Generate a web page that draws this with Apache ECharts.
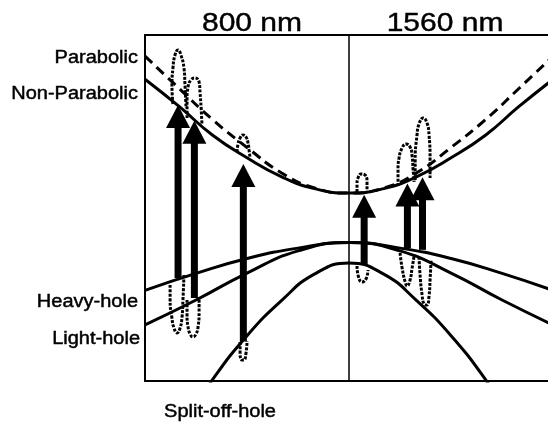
<!DOCTYPE html>
<html>
<head>
<meta charset="utf-8">
<script src="https://cdn.jsdelivr.net/npm/echarts@6/dist/echarts.min.js"></script>
<style>
  html, body { margin: 0; padding: 0; background: #fff; }
  #chart { width: 548px; height: 430px; }
</style>
</head>
<body>
<div id="chart"></div>
<script>
// Band structure sketch: wave vector k (normalised) vs energy (eV, valence-band top = 0)

// k samples for conduction band and split-off band
const kBand = [-1, -0.83, -0.67, -0.5, -0.33, -0.17, 0, 0.17, 0.33, 0.5, 0.67, 0.83, 1];
const cbNonParabolic = [4.72, 3.92, 3.11, 2.45, 1.90, 1.56, 1.43, 1.56, 1.90, 2.45, 3.11, 3.92, 4.72];
const cbParabolic = [5.39, 4.44, 3.56, 2.75, 2.01, 1.58, 1.43, 1.58, 2.01, 2.75, 3.56, 4.44, 5.39];
const splitOff = [-7.0, -5.4, -3.97, -2.69, -1.67, -0.91, -0.59, -0.91, -1.67, -2.69, -3.97, -5.4, -7.0];

// k samples for heavy- and light-hole bands
const kHole = [-1, -0.75, -0.5, -0.25, 0, 0.25, 0.5, 0.75, 1];
const heavyHole = [-1.38, -0.89, -0.46, -0.16, 0, -0.16, -0.46, -0.89, -1.38];
const lightHole = [-2.38, -1.66, -0.88, -0.24, 0, -0.24, -0.88, -1.66, -2.38];

// optical transitions: [k, start energy, end energy]
const transitions = [
  [-0.838, -1.02, 3.98],
  [-0.758, -1.60, 3.52],
  [-0.518, -2.86, 2.27],
  [0.074, -0.65, 1.38],
  [0.286, -0.16, 1.71],
  [0.360, -0.21, 1.89]
];

// electron wave packets in the conduction band, [k, E] outlines
const electronPackets = [
  [[-0.863,4.006],[-0.868,4.555],[-0.863,5.047],[-0.853,5.422],[-0.838,5.567],[-0.824,5.422],[-0.809,5.047],[-0.804,4.555],[-0.799,3.891]],
  [[-0.794,3.602],[-0.794,4.122],[-0.789,4.498],[-0.775,4.700],[-0.755,4.758],[-0.735,4.642],[-0.730,4.324],[-0.725,3.891],[-0.721,3.428]],
  [[-0.549,2.619],[-0.544,2.850],[-0.534,3.023],[-0.520,3.110],[-0.505,3.052],[-0.495,2.879],[-0.490,2.677],[-0.485,2.445]],
  [[0.039,1.463],[0.039,1.694],[0.044,1.867],[0.059,1.983],[0.078,1.954],[0.088,1.781],[0.088,1.492]],
  [[0.240,1.636],[0.240,2.099],[0.245,2.445],[0.260,2.734],[0.279,2.850],[0.299,2.763],[0.309,2.503],[0.314,2.099],[0.319,1.752]],
  [[0.324,1.810],[0.324,2.388],[0.333,3.110],[0.343,3.428],[0.363,3.602],[0.382,3.457],[0.392,3.110],[0.397,2.388],[0.397,1.867]]
];

// hole wave packets in the valence bands
const holePackets = [
  [[-0.877,-1.225],[-0.877,-1.659],[-0.868,-2.179],[-0.858,-2.468],[-0.843,-2.612],[-0.828,-2.468],[-0.819,-2.179],[-0.814,-1.659],[-0.809,-0.936]],
  [[-0.794,-1.659],[-0.794,-2.092],[-0.789,-2.439],[-0.779,-2.641],[-0.765,-2.728],[-0.750,-2.641],[-0.740,-2.439],[-0.735,-2.006],[-0.735,-1.572]],
  [[-0.534,-2.872],[-0.534,-3.190],[-0.525,-3.393],[-0.515,-3.393],[-0.505,-3.190],[-0.500,-2.844]],
  [[0.039,-0.676],[0.044,-0.936],[0.064,-1.139],[0.083,-1.052],[0.093,-0.791]],
  [[0.250,-0.300],[0.260,-0.734],[0.275,-1.139],[0.284,-1.254],[0.299,-1.081],[0.309,-0.734],[0.319,-0.387]],
  [[0.343,-0.416],[0.348,-0.936],[0.358,-1.514],[0.368,-1.774],[0.382,-1.803],[0.392,-1.543],[0.397,-1.081],[0.402,-0.503]]
];

const wavelengthTitles = ['800 nm', '1560 nm'];
const bandLabels = ['Parabolic', 'Non-Parabolic', 'Heavy-hole', 'Light-hole', 'Split-off-hole'];

// visible k window: the frame is cut by the right edge of the page
const K_MIN = -1, K_MAX = 0.975;

const zip = (ks, es) => ks.map((k, i) => [k, es[i]]);
const FONT = '"Liberation Sans", Arial, Helvetica, sans-serif';

const bandSeries = (data, dash) => ({
  type: 'line',
  data: data,
  smooth: 0.5,
  symbol: 'none',
  silent: true,
  clip: true,
  lineStyle: { color: '#000', width: 3, type: dash || 'solid' },
  z: 3
});

const packetSeries = (data) => ({
  type: 'line',
  data: data,
  smooth: 0.5,
  symbol: 'none',
  silent: true,
  lineStyle: { color: '#000', width: 3, type: [3, 1.4] },
  z: 2
});

const series = [
  Object.assign(bandSeries(zip(kBand, cbNonParabolic)), {
    markLine: {
      silent: true,
      symbol: 'none',
      label: { show: false },
      lineStyle: { color: '#000', width: 1.5, type: 'solid' },
      data: [{ xAxis: 0 }]
    }
  }),
  bandSeries(zip(kBand, cbParabolic), [10, 6]),
  bandSeries(zip(kHole, heavyHole)),
  bandSeries(zip(kHole, lightHole)),
  bandSeries(zip(kBand, splitOff)),
  ...electronPackets.map(packetSeries),
  ...holePackets.map(packetSeries),
  {
    type: 'custom',
    data: transitions,
    silent: true,
    encode: { x: 0, y: [1, 2] },
    z: 5,
    renderItem: function (params, api) {
      const base = api.coord([api.value(0), api.value(1)]);
      const tip = api.coord([api.value(0), api.value(2)]);
      const x = base[0];
      const headLen = 23, headHalf = 12, shaftHalf = 3.5;
      return {
        type: 'group',
        children: [
          {
            type: 'rect',
            shape: { x: x - shaftHalf, y: tip[1] + headLen - 1, width: shaftHalf * 2, height: base[1] - tip[1] - headLen + 1 },
            style: { fill: '#000' }
          },
          {
            type: 'polygon',
            shape: { points: [[x, tip[1]], [x - headHalf, tip[1] + headLen], [x + headHalf, tip[1] + headLen]] },
            style: { fill: '#000' }
          }
        ]
      };
    }
  }
];

const textEl = (text, x, y, size, align) => ({
  type: 'text',
  x: x, y: y,
  scaleY: 0.88,
  silent: true,
  style: {
    text: text,
    fontSize: size,
    fontFamily: FONT,
    fill: '#000',
    stroke: '#000',
    lineWidth: 0.5,
    align: align,
    verticalAlign: 'middle'
  }
});

const axisCommon = {
  type: 'value', min: K_MIN, max: K_MAX,
  axisLine: { show: true, onZero: false, lineStyle: { color: '#000', width: 2 } },
  axisTick: { show: false }, axisLabel: { show: false }, splitLine: { show: false }
};

const chart = echarts.init(document.getElementById('chart'), null, { renderer: 'canvas' });
chart.setOption({
  backgroundColor: '#fff',
  animation: false,
  grid: { left: 145, top: 35, right: 0, bottom: 49 },
  xAxis: [
    Object.assign({ position: 'bottom' }, axisCommon),
    Object.assign({ position: 'top' }, axisCommon)
  ],
  yAxis: {
    type: 'value', min: -4, max: 6,
    axisLine: { show: true, onZero: false, lineStyle: { color: '#000', width: 2 } },
    axisTick: { show: false }, axisLabel: { show: false }, splitLine: { show: false }
  },
  graphic: [
    textEl(wavelengthTitles[0], 252, 24, 30, 'center'),
    textEl(wavelengthTitles[1], 445, 24, 30, 'center'),
    textEl(bandLabels[0], 138, 58, 20, 'right'),
    textEl(bandLabels[1], 138, 94, 20, 'right'),
    textEl(bandLabels[2], 138, 302, 20, 'right'),
    textEl(bandLabels[3], 140, 339, 20, 'right'),
    textEl(bandLabels[4], 220, 412, 20, 'center')
  ],
  series: series
});
</script>
</body>
</html>
